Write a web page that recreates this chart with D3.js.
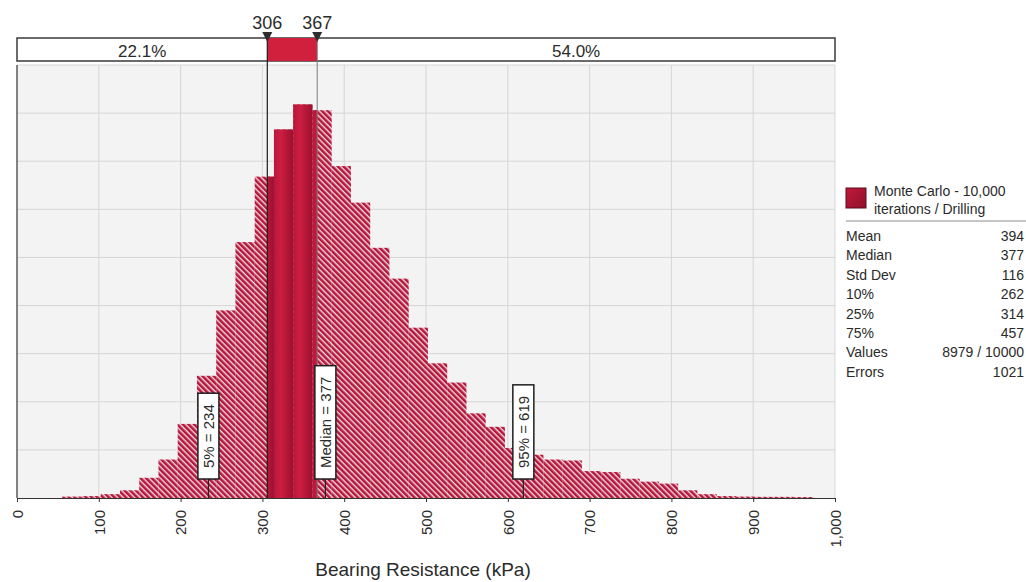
<!DOCTYPE html>
<html>
<head>
<meta charset="utf-8">
<script src="https://cdn.jsdelivr.net/npm/d3@7"></script>
<style>
  body { margin: 0; background: #ffffff; }
  svg text { font-family: "Liberation Sans", Arial, sans-serif; fill: #2b2b2b; }
</style>
</head>
<body>
<svg id="chart" width="1026" height="582"></svg>
<script>
// Bearing resistance histogram (Monte Carlo, 10,000 iterations / drilling).
// Bin heights are probability density in units of 1e-3 per kPa.
const binStart = 55.3;   // lower edge of first bin (kPa)
const binWidth = 23.53;  // bin width (kPa)
const density = [0.015, 0.02, 0.04, 0.08, 0.21, 0.40, 0.77, 1.27, 1.95, 2.66,
                 3.34, 3.83, 4.09, 4.03, 3.45, 3.07, 2.60, 2.28, 1.77, 1.40,
                 1.20, 0.88, 0.74, 0.52, 0.45, 0.40, 0.39, 0.28, 0.27, 0.20,
                 0.17, 0.15, 0.08, 0.04, 0.02, 0.015, 0.012, 0.012, 0.01];

const xTicks = [0, 100, 200, 300, 400, 500, 600, 700, 800, 900, 1000];
const yGrid = [0.5, 1.0, 1.5, 2.0, 2.5, 3.0, 3.5, 4.0, 4.5];

// Delimiters and the share of values outside them
const delimiters = [306, 367];
const regionShares = ["22.1%", "54.0%"];

// Annotated statistics on the histogram
const markerNames = ["5%", "Median", "95%"];
const markerValues = [234, 377, 619];

// Legend and statistics table
const seriesName = ["Monte Carlo - 10,000", "iterations / Drilling"];
const statNames = ["Mean", "Median", "Std Dev", "10%", "25%", "75%", "Values", "Errors"];
const statValues = ["394", "377", "116", "262", "314", "457", "8979 / 10000", "1021"];

const axisTitle = "Bearing Resistance (kPa)";

// ---------------------------------------------------------------
const svg = d3.select("#chart");
const plot = { left: 17, right: 835, top: 65, bottom: 498 };

const x = d3.scaleLinear().domain([0, 1000]).range([plot.left, plot.right]);
const y = d3.scaleLinear().domain([0, 4.5]).range([plot.bottom, plot.top]);

const bins = density.map((d, i) => ({
  x0: binStart + i * binWidth,
  x1: binStart + (i + 1) * binWidth,
  v: d
}));

const defs = svg.append("defs");

// diagonal white hatch on crimson
const hatch = defs.append("pattern")
  .attr("id", "hatch")
  .attr("patternUnits", "userSpaceOnUse")
  .attr("width", 4).attr("height", 4)
  .attr("patternTransform", "rotate(45)");
hatch.append("rect").attr("width", 4).attr("height", 4).attr("fill", "#b3173b");
hatch.append("rect").attr("x", 0).attr("y", 0).attr("width", 4).attr("height", 1.4)
  .attr("fill", "#ffffff").attr("opacity", 0.85);

// solid bar gradient
const grad = defs.append("linearGradient").attr("id", "solidGrad")
  .attr("x1", "0%").attr("x2", "100%").attr("y1", "0%").attr("y2", "0%");
grad.append("stop").attr("offset", "0%").attr("stop-color", "#b8163a");
grad.append("stop").attr("offset", "35%").attr("stop-color", "#cc1e40");
grad.append("stop").attr("offset", "100%").attr("stop-color", "#9c1030");

const legGrad = defs.append("linearGradient").attr("id", "legendGrad")
  .attr("x1", "0%").attr("x2", "100%").attr("y1", "0%").attr("y2", "100%");
legGrad.append("stop").attr("offset", "0%").attr("stop-color", "#c41a3c");
legGrad.append("stop").attr("offset", "100%").attr("stop-color", "#8e0f2b");

defs.append("clipPath").attr("id", "midClip")
  .append("rect")
  .attr("x", x(delimiters[0])).attr("y", plot.top)
  .attr("width", x(delimiters[1]) - x(delimiters[0]))
  .attr("height", plot.bottom - plot.top);

// plot background
svg.append("rect")
  .attr("x", plot.left).attr("y", plot.top)
  .attr("width", plot.right - plot.left).attr("height", plot.bottom - plot.top)
  .attr("fill", "#f3f3f3");

// grid
svg.append("g").selectAll("line").data(xTicks.slice(1)).join("line")
  .attr("x1", d => x(d)).attr("x2", d => x(d))
  .attr("y1", plot.top).attr("y2", plot.bottom)
  .attr("stroke", "#d6d6d6").attr("stroke-width", 1);
svg.append("g").selectAll("line").data(yGrid).join("line")
  .attr("x1", plot.left).attr("x2", plot.right)
  .attr("y1", d => y(d)).attr("y2", d => y(d))
  .attr("stroke", "#d6d6d6").attr("stroke-width", 1);

// hatched bars
svg.append("g").selectAll("rect").data(bins).join("rect")
  .attr("x", d => x(d.x0)).attr("width", d => x(d.x1) - x(d.x0))
  .attr("y", d => y(d.v)).attr("height", d => y(0) - y(d.v))
  .attr("fill", "url(#hatch)");

// solid bars between the delimiters
svg.append("g").attr("clip-path", "url(#midClip)")
  .selectAll("rect").data(bins).join("rect")
  .attr("x", d => x(d.x0)).attr("width", d => x(d.x1) - x(d.x0))
  .attr("y", d => y(d.v)).attr("height", d => y(0) - y(d.v))
  .attr("fill", "url(#solidGrad)");

// axes lines
svg.append("line")
  .attr("x1", plot.left).attr("x2", plot.left)
  .attr("y1", plot.top).attr("y2", plot.bottom)
  .attr("stroke", "#333").attr("stroke-width", 1.2);

const xAxis = svg.append("g")
  .attr("transform", `translate(0,${plot.bottom})`)
  .call(d3.axisBottom(x).tickValues(xTicks).tickFormat(d3.format(",")).tickSize(4).tickSizeOuter(0));
xAxis.select(".domain").attr("stroke", "#333").attr("stroke-width", 1.2);
xAxis.selectAll(".tick line").attr("stroke", "#333");
xAxis.selectAll(".tick text")
  .attr("transform", "rotate(-90)")
  .attr("text-anchor", "end")
  .attr("x", -12).attr("y", 0).attr("dy", "0.35em")
  .style("font-size", "15px")
  .style("font-family", "'Liberation Sans', Arial, sans-serif")
  .attr("fill", "#2b2b2b");

svg.append("text")
  .attr("x", (plot.left + plot.right) / 2 - 3).attr("y", 576)
  .attr("text-anchor", "middle")
  .style("font-size", "19px")
  .text(axisTitle);

// delimiter bar across the top
const barTop = 38, barBottom = 61;
svg.append("rect")
  .attr("x", plot.left).attr("y", barTop)
  .attr("width", plot.right - plot.left).attr("height", barBottom - barTop)
  .attr("fill", "#ffffff").attr("stroke", "#3a3a3a").attr("stroke-width", 1.5);
svg.append("rect")
  .attr("x", x(delimiters[0])).attr("y", barTop)
  .attr("width", x(delimiters[1]) - x(delimiters[0])).attr("height", barBottom - barTop)
  .attr("fill", "#d11f3e");

const regionCenters = [(plot.left + x(delimiters[0])) / 2, (x(delimiters[1]) + plot.right) / 2];
svg.append("g").selectAll("text").data(regionShares).join("text")
  .attr("x", (d, i) => regionCenters[i]).attr("y", 56.5)
  .attr("text-anchor", "middle")
  .style("font-size", "17px")
  .text(d => d);

// delimiter lines
svg.append("line")
  .attr("x1", x(delimiters[0])).attr("x2", x(delimiters[0]))
  .attr("y1", barTop).attr("y2", plot.bottom)
  .attr("stroke", "#1c1c1c").attr("stroke-width", 1.2);
svg.append("line")
  .attr("x1", x(delimiters[1])).attr("x2", x(delimiters[1]))
  .attr("y1", barTop).attr("y2", plot.bottom)
  .attr("stroke", "#7a7a7a").attr("stroke-width", 1);

// delimiter handles and values
svg.append("g").selectAll("path").data(delimiters).join("path")
  .attr("d", d => `M${x(d) - 5},32 L${x(d) + 5},32 L${x(d)},42 Z`)
  .attr("fill", "#2e2e2e");
svg.append("g").selectAll("text").data(delimiters).join("text")
  .attr("x", d => x(d)).attr("y", 29)
  .attr("text-anchor", "middle")
  .style("font-size", "18px")
  .text(d => d);

// statistic markers with vertical labels
const boxBottom = 479, boxW = 21, pad = 11;
const mk = svg.append("g").selectAll("g").data(markerValues).join("g");
mk.append("line")
  .attr("x1", d => x(d)).attr("x2", d => x(d))
  .attr("y1", boxBottom).attr("y2", plot.bottom)
  .attr("stroke", "#222").attr("stroke-width", 1.2);
const mkRect = mk.append("rect")
  .attr("fill", "#ffffff").attr("stroke", "#1e1e1e").attr("stroke-width", 1.5);
const mkText = mk.append("text")
  .attr("transform", d => `translate(${x(d)},${boxBottom - pad}) rotate(-90)`)
  .attr("dy", "0.35em")
  .style("font-size", "15px")
  .text((d, i) => `${markerNames[i]} = ${d}`);
mkText.each(function (d, i) {
  const len = this.getComputedTextLength();
  d3.select(mkRect.nodes()[i])
    .attr("x", x(d) - boxW / 2).attr("width", boxW)
    .attr("y", boxBottom - len - 2 * pad).attr("height", len + 2 * pad);
});

// legend
const lg = svg.append("g");
lg.append("rect").attr("x", 846).attr("y", 188).attr("width", 20).attr("height", 20)
  .attr("fill", "url(#legendGrad)").attr("stroke", "#5c0a1c").attr("stroke-width", 1);
lg.selectAll("text.name").data(seriesName).join("text")
  .attr("class", "name")
  .attr("x", 874).attr("y", (d, i) => 196 + i * 18)
  .style("font-size", "14px")
  .text(d => d);
lg.append("line").attr("x1", 846).attr("x2", 1026).attr("y1", 221).attr("y2", 221)
  .attr("stroke", "#8c8c8c").attr("stroke-width", 1);
lg.selectAll("text.sn").data(statNames).join("text")
  .attr("class", "sn")
  .attr("x", 846).attr("y", (d, i) => 241 + i * 19.4)
  .style("font-size", "14px")
  .text(d => d);
lg.selectAll("text.sv").data(statValues).join("text")
  .attr("class", "sv")
  .attr("x", 1024).attr("y", (d, i) => 241 + i * 19.4)
  .attr("text-anchor", "end")
  .style("font-size", "14px")
  .text(d => d);
</script>
</body>
</html>
